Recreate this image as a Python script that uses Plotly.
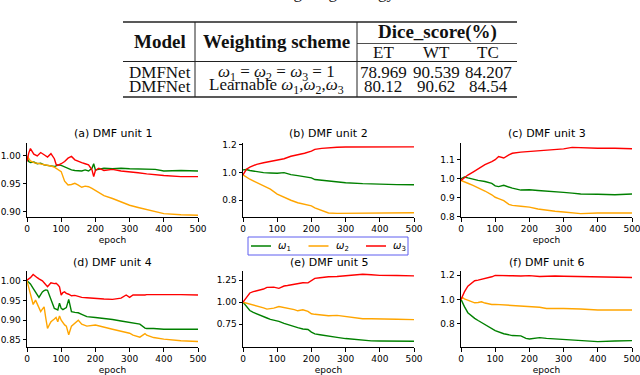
import plotly.graph_objects as go

W, H = 640, 375
GREEN, ORANGE, RED = "#008000", "#ffa500", "#ff0000"
INK = "#111111"
LEG_EDGE = "#5f5ff0"
SERIF = "Liberation Serif"
SANS = "DejaVu Sans"

# ---- table data
TBL_HEAD = ["Model", "Weighting scheme", "Dice_score(%)"]
TBL_SUBHEAD = ["ET", "WT", "TC"]
TBL_MODELS = ["DMFNet", "DMFNet"]
TBL_SCHEMES = [
    "<i>ω</i><sub>1</sub> = <i>ω</i><sub>2</sub> = <i>ω</i><sub>3</sub> = 1",
    "Learnable <i>ω</i><sub>1</sub>,<i>ω</i><sub>2</sub>,<i>ω</i><sub>3</sub>",
]
TBL_ET = ["78.969", "80.12"]
TBL_WT = ["90.539", "90.62"]
TBL_TC = ["84.207", "84.54"]

# ---- curve data
SERIES_NAMES = ["<i>ω</i><sub>1</sub>", "<i>ω</i><sub>2</sub>", "<i>ω</i><sub>3</sub>"]
SERIES_COLORS = [GREEN, ORANGE, RED]
X_TICKS = [0, 100, 200, 300, 400, 500]

A_EPOCH = [0, 5, 10, 20, 30, 40, 50, 60, 70, 80, 85, 90, 100, 110, 120, 130, 140, 150, 160,
           170, 180, 190, 195, 200, 210, 225, 250, 275, 300, 325, 350, 375, 400, 450, 500]
A_W1 = [0.997, 0.990, 0.988, 0.989, 0.986, 0.987, 0.984, 0.983, 0.982, 0.981, 0.982, 0.984,
        0.983, 0.980, 0.978, 0.975, 0.974, 0.974, 0.973, 0.975, 0.973, 0.978, 0.986, 0.975,
        0.976, 0.978, 0.977, 0.978, 0.977, 0.977, 0.977, 0.976, 0.973, 0.974, 0.973]
A_W2 = [1.000, 0.995, 0.991, 0.988, 0.987, 0.985, 0.985, 0.984, 0.982, 0.980, 0.978, 0.977,
        0.972, 0.955, 0.948, 0.949, 0.951, 0.948, 0.944, 0.946, 0.945, 0.942, 0.940, 0.938,
        0.934, 0.929, 0.924, 0.918, 0.912, 0.908, 0.904, 0.900, 0.897, 0.895, 0.894]
A_W3 = [0.990, 1.005, 1.013, 1.003, 1.000, 1.006, 1.002, 0.998, 1.004, 0.995, 0.985, 0.983,
        0.986, 0.990, 0.996, 0.999, 0.993, 0.990, 0.988, 0.986, 0.984, 0.975, 0.963, 0.974,
        0.978, 0.974, 0.976, 0.973, 0.972, 0.970, 0.968, 0.966, 0.965, 0.963, 0.963]

B_EPOCH = [0, 10, 20, 30, 40, 60, 80, 100, 120, 140, 160, 180, 200, 210, 230, 250, 275, 300,
           350, 400, 450, 500]
B_W1 = [1.020, 1.022, 1.015, 1.010, 1.005, 1.000, 0.997, 0.995, 1.000, 0.985, 0.978, 0.970,
        0.962, 0.950, 0.945, 0.940, 0.933, 0.927, 0.920, 0.915, 0.913, 0.912]
B_W2 = [0.983, 0.965, 0.952, 0.940, 0.929, 0.905, 0.880, 0.845, 0.820, 0.800, 0.782, 0.770,
        0.760, 0.745, 0.725, 0.708, 0.705, 0.706, 0.707, 0.708, 0.709, 0.710]
B_W3 = [0.983, 1.024, 1.040, 1.052, 1.060, 1.071, 1.082, 1.093, 1.100, 1.118, 1.128, 1.140,
        1.155, 1.168, 1.175, 1.180, 1.183, 1.185, 1.186, 1.186, 1.186, 1.186]

C_EPOCH = [0, 10, 20, 35, 50, 70, 90, 100, 110, 125, 140, 150, 175, 200, 225, 250, 275, 300,
           325, 350, 400, 450, 500]
C_W1 = [1.000, 1.009, 1.004, 0.996, 0.991, 0.985, 0.975, 0.962, 0.958, 0.965, 0.956, 0.950,
        0.940, 0.942, 0.938, 0.936, 0.932, 0.928, 0.924, 0.919, 0.918, 0.915, 0.919]
C_W2 = [0.991, 0.985, 0.976, 0.965, 0.953, 0.935, 0.915, 0.902, 0.895, 0.884, 0.865, 0.859,
        0.855, 0.850, 0.840, 0.833, 0.828, 0.824, 0.820, 0.816, 0.819, 0.818, 0.819]
C_W3 = [0.991, 1.005, 1.019, 1.035, 1.052, 1.074, 1.090, 1.100, 1.117, 1.109, 1.125, 1.134,
        1.140, 1.143, 1.148, 1.152, 1.155, 1.157, 1.165, 1.163, 1.160, 1.160, 1.158]

D_EPOCH = [0, 10, 18, 25, 30, 35, 40, 45, 50, 55, 60, 65, 70, 80, 85, 90, 95, 100, 105, 110,
           115, 122, 130, 140, 150, 160, 175, 200, 225, 250, 275, 290, 300, 310, 330, 345, 350,
           370, 400, 450, 500]
D_W1 = [1.000, 0.992, 0.981, 0.972, 0.965, 0.958, 0.965, 0.972, 0.975, 0.977, 0.976, 0.964,
        0.950, 0.930, 0.928, 0.926, 0.943, 0.930, 0.927, 0.930, 0.932, 0.953, 0.922, 0.920,
        0.919, 0.915, 0.909, 0.907, 0.905, 0.902, 0.898, 0.896, 0.894, 0.892, 0.890, 0.880,
        0.879, 0.879, 0.877, 0.877, 0.877]
D_W2 = [1.000, 0.964, 0.940, 0.951, 0.940, 0.930, 0.922, 0.928, 0.934, 0.905, 0.879, 0.888,
        0.896, 0.903, 0.907, 0.896, 0.911, 0.900, 0.892, 0.888, 0.885, 0.863, 0.885, 0.892,
        0.900, 0.890, 0.885, 0.888, 0.882, 0.877, 0.872, 0.868, 0.867, 0.862, 0.857, 0.866,
        0.862, 0.856, 0.852, 0.848, 0.846]
D_W3 = [1.002, 1.008, 1.016, 1.010, 1.008, 1.005, 1.003, 1.000, 0.995, 0.990, 0.985, 0.990,
        0.995, 0.993, 0.994, 0.990, 0.985, 0.964, 0.970, 0.972, 0.968, 0.966, 0.962, 0.963,
        0.960, 0.958, 0.957, 0.955, 0.954, 0.953, 0.956, 0.964, 0.958, 0.964, 0.963, 0.964,
        0.965, 0.965, 0.966, 0.965, 0.964]

E_EPOCH = [0, 10, 15, 20, 30, 40, 50, 60, 70, 80, 90, 105, 120, 130, 150, 160, 175, 190, 200,
           210, 225, 250, 275, 300, 325, 350, 375, 400, 450, 500]
E_W1 = [1.000, 0.950, 0.932, 0.905, 0.883, 0.865, 0.850, 0.835, 0.820, 0.805, 0.795, 0.782,
        0.758, 0.745, 0.718, 0.710, 0.695, 0.690, 0.660, 0.640, 0.630, 0.612, 0.600, 0.586,
        0.575, 0.565, 0.560, 0.558, 0.556, 0.555]
E_W2 = [1.000, 0.990, 0.982, 0.977, 0.965, 0.958, 0.951, 0.935, 0.921, 0.925, 0.932, 0.951,
        0.940, 0.932, 0.915, 0.902, 0.913, 0.895, 0.868, 0.862, 0.858, 0.846, 0.850, 0.838,
        0.825, 0.812, 0.812, 0.808, 0.805, 0.802]
E_W3 = [1.000, 1.060, 1.083, 1.105, 1.120, 1.130, 1.139, 1.150, 1.169, 1.170, 1.172, 1.158,
        1.184, 1.190, 1.203, 1.210, 1.222, 1.220, 1.245, 1.271, 1.278, 1.290, 1.293, 1.300,
        1.305, 1.318, 1.312, 1.305, 1.303, 1.300]

F_EPOCH = [0, 5, 10, 20, 30, 40, 50, 60, 70, 80, 90, 100, 125, 150, 175, 190, 200, 230, 250,
           275, 300, 350, 400, 450, 500]
F_W1 = [1.000, 0.965, 0.940, 0.890, 0.865, 0.843, 0.825, 0.807, 0.790, 0.774, 0.757, 0.741,
        0.715, 0.700, 0.697, 0.677, 0.672, 0.683, 0.677, 0.672, 0.669, 0.658, 0.650, 0.655, 0.658]
F_W2 = [1.000, 1.014, 1.005, 0.995, 0.985, 0.972, 0.975, 0.980, 0.970, 0.961, 0.958, 0.959,
        0.955, 0.953, 0.948, 0.945, 0.939, 0.935, 0.925, 0.927, 0.925, 0.920, 0.912, 0.912, 0.912]
F_W3 = [1.000, 1.035, 1.063, 1.110, 1.135, 1.155, 1.160, 1.166, 1.170, 1.180, 1.188, 1.200,
        1.195, 1.196, 1.195, 1.200, 1.198, 1.190, 1.193, 1.195, 1.193, 1.190, 1.188, 1.185, 1.182]

PANELS = [
    ("(a) DMF unit 1", A_EPOCH, A_W1, A_W2, A_W3, [0.891, 1.023], [0.90, 0.95, 1.00], ".2f"),
    ("(b) DMF unit 2", B_EPOCH, B_W1, B_W2, B_W3, [0.679, 1.214], [0.8, 1.0, 1.2], ".1f"),
    ("(c) DMF unit 3", C_EPOCH, C_W1, C_W2, C_W3, [0.798, 1.188], [0.8, 0.9, 1.0, 1.1], ".1f"),
    ("(d) DMF unit 4", D_EPOCH, D_W1, D_W2, D_W3, [0.832, 1.025], [0.85, 0.90, 0.95, 1.00], ".2f"),
    ("(e) DMF unit 5", E_EPOCH, E_W1, E_W2, E_W3, [0.490, 1.355], [0.75, 1.00, 1.25], ".2f"),
    ("(f) DMF unit 6", F_EPOCH, F_W1, F_W2, F_W3, [0.605, 1.236], [0.8, 1.0, 1.2], ".1f"),
]

# pixel boxes of the subplot axes
X_BOXES = [(27, 198), (243, 414), (461, 632)]
Y_BOXES = [(143, 217), (271, 347)]
TITLE_Y = [133, 262]


def fx(x):
    return x / W


def fy(y):
    return 1 - y / H


fig = go.Figure()
layout = {}
annotations = []
shapes = []


def text_at(text, x, y, font, xanchor="center"):
    annotations.append(dict(
        text=text, x=fx(x), y=fy(y), xref="paper", yref="paper", xanchor=xanchor,
        yanchor="middle", showarrow=False, font=font,
    ))


for i, (title, ep, w1, w2, w3, yr, yt, fmt) in enumerate(PANELS):
    n = i + 1
    col, row = i % 3, i // 3
    sfx = "" if n == 1 else str(n)
    for ys, color, name in zip((w1, w2, w3), SERIES_COLORS, SERIES_NAMES):
        fig.add_scatter(
            x=ep, y=ys, xaxis="x" + sfx, yaxis="y" + sfx, mode="lines", name=name,
            line=dict(color=color, width=1.4), showlegend=False, hoverinfo="skip",
        )
    x0, x1 = X_BOXES[col]
    y0, y1 = Y_BOXES[row]
    common = dict(
        showline=True, linecolor="black", linewidth=1, ticks="outside", ticklen=3.5,
        tickwidth=1, tickcolor="black", showgrid=False, zeroline=False, automargin=False,
        ticklabeloverflow="allow", tickfont=dict(family=SANS, size=9, color="black"),
    )
    # the legend box hides the x label of panel (b)
    xtitle = "" if n == 2 else "epoch"
    layout["xaxis" + sfx] = dict(
        domain=[fx(x0), fx(x1)], anchor="y" + sfx, range=[0, 500], tickvals=X_TICKS,
        title=dict(text=xtitle, font=dict(family=SANS, size=9, color="black"), standoff=3),
        **common,
    )
    layout["yaxis" + sfx] = dict(
        domain=[fy(y1), fy(y0)], anchor="x" + sfx, range=yr, tickvals=yt, tickformat=fmt,
        **common,
    )
    text_at(title, (x0 + x1) / 2, TITLE_Y[row], dict(family=SANS, size=11, color="black"))

# ---- shared legend box between the rows
shapes.append(dict(type="rect", xref="paper", yref="paper", x0=fx(248), x1=fx(408),
                   y0=fy(255), y1=fy(237), fillcolor="white",
                   line=dict(color=LEG_EDGE, width=1)))
for k, (name, color) in enumerate(zip(SERIES_NAMES, SERIES_COLORS)):
    lx = 251 + k * 57.5
    shapes.append(dict(type="line", xref="paper", yref="paper", x0=fx(lx), x1=fx(lx + 20),
                       y0=fy(246), y1=fy(246), line=dict(color=color, width=1.5)))
    text_at(name, lx + 25, 246, dict(family=SANS, size=10, color="black"), xanchor="left")


# ---- table (lines + text)
def hline(x0, x1, y, w):
    shapes.append(dict(type="line", xref="paper", yref="paper", x0=fx(x0), x1=fx(x1),
                       y0=fy(y), y1=fy(y), line=dict(color="#222222", width=w)))


def vline(x, y0, y1):
    shapes.append(dict(type="line", xref="paper", yref="paper", x0=fx(x), x1=fx(x),
                       y0=fy(y0), y1=fy(y1), line=dict(color="#222222", width=1)))


hline(123, 517, 22, 1.5)
hline(357, 517, 43.5, 0.8)
hline(123, 517, 61.5, 1)
hline(123, 517, 97, 1.5)
vline(195, 22, 97)
vline(357, 22, 97)


def cell(text, x, y, size=17, bold=False):
    text_at(f"<b>{text}</b>" if bold else text, x, y,
            dict(family=SERIF, size=size, color=INK))


cell(TBL_HEAD[0], 160, 42, 19, True)
cell(TBL_HEAD[1], 276, 42, 19, True)
cell(TBL_HEAD[2], 437, 32, 19, True)
for txt, x in zip(TBL_SUBHEAD, (383, 436, 488)):
    cell(txt, x, 52)
for r, yy in enumerate((72.5, 86)):
    cell(TBL_MODELS[r], 160, yy)
    cell(TBL_SCHEMES[r], 276, yy)
    cell(TBL_ET[r], 383, yy)
    cell(TBL_WT[r], 436, yy)
    cell(TBL_TC[r], 488, yy)

# caption above the table, mostly cut off by the top edge
annotations.append(dict(
    text="weighting strategy", x=fx(332), y=fy(4), xref="paper", yref="paper",
    xanchor="center", yanchor="bottom", showarrow=False,
    font=dict(family=SERIF, size=17, color=INK),
))

fig.update_layout(
    width=W, height=H, margin=dict(l=0, r=0, t=0, b=0),
    paper_bgcolor="white", plot_bgcolor="white",
    annotations=annotations, shapes=shapes, showlegend=False,
    **layout,
)

fig.write_html("out.html", config={"displayModeBar": False},
               post_script="document.body.style.margin='0';")
